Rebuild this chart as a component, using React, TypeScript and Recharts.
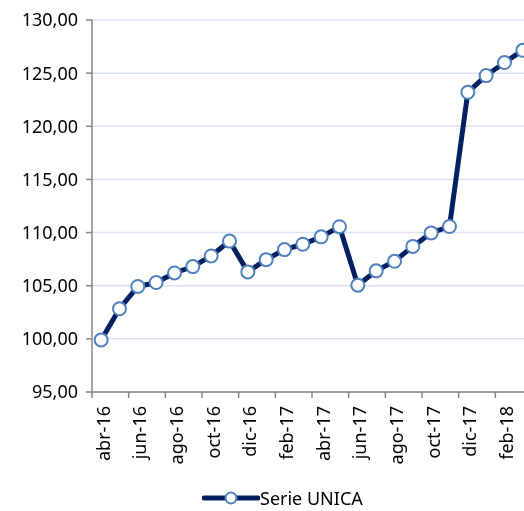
import React from "react";
import { CartesianGrid, Line, LineChart, XAxis, YAxis } from "recharts";

const months = [
  "abr-16", "may-16", "jun-16", "jul-16", "ago-16", "sep-16", "oct-16", "nov-16",
  "dic-16", "ene-17", "feb-17", "mar-17", "abr-17", "may-17", "jun-17", "jul-17",
  "ago-17", "sep-17", "oct-17", "nov-17", "dic-17", "ene-18", "feb-18", "mar-18"
];

const serieUnica = [
  99.9, 102.83, 104.93, 105.3, 106.2, 106.8, 107.8, 109.2,
  106.3, 107.45, 108.4, 108.9, 109.6, 110.55, 105.05, 106.4,
  107.3, 108.7, 109.97, 110.57, 123.2, 124.77, 126.0, 127.15
];

const yTicks = [95, 100, 105, 110, 115, 120, 125, 130];
const xTicks = [0, 2, 4, 6, 8, 10, 12, 14, 16, 18, 20, 22];

const data = months.map((m, i) => ({ i, label: m, value: serieUnica[i] }));

const FONT = "'Noto Sans', sans-serif";
const NAVY = "#002060";
const MARKER = "#4f81bd";
const AXIS = "#868686";

const CHART_W = 540;
const CHART_H = 470;
const MARGIN = { top: 12, right: 16, bottom: 0, left: 0 };
const Y_W = 84;
const BAND = (CHART_W - MARGIN.left - MARGIN.right - Y_W) / months.length;

const fmt = (v: number) => v.toFixed(2).replace(".", ",");

const XTick = (props: any) => {
  const { x, y, payload } = props;
  const label = months[payload.value];
  return (
    <g>
      <line x1={x - BAND / 2} x2={x - BAND / 2} y1={y} y2={y + 6} stroke={AXIS} strokeWidth={1.5} />
      <text
        x={0}
        y={0}
        transform={`translate(${x + 1.5}, ${y + 14}) rotate(-90)`}
        textAnchor="end"
        dominantBaseline="central"
        fontFamily={FONT}
        fontSize={18}
        fill="#000"
      >
        {label}
      </text>
    </g>
  );
};

export default function App() {
  return (
    <div style={{ position: "fixed", left: 8, top: 8, width: 516, height: 503, overflow: "hidden" }}>
      <LineChart width={CHART_W} height={CHART_H} data={data} margin={MARGIN}>
        <CartesianGrid vertical={false} stroke="#dae3f3" strokeWidth={1.5} />
        <XAxis
          dataKey="i"
          type="number"
          domain={[-0.5, 23.5]}
          ticks={xTicks}
          interval={0}
          tickLine={false}
          tickSize={0}
          tickMargin={0}
          height={86}
          stroke={AXIS}
          strokeWidth={1.5}
          tick={<XTick />}
        />
        <YAxis
          type="number"
          domain={[95, 130]}
          ticks={yTicks}
          interval={0}
          width={Y_W}
          tickFormatter={fmt}
          tickSize={6}
          tickMargin={8}
          stroke={AXIS}
          strokeWidth={1.5}
          tick={{ fill: "#000", fontSize: 18, fontFamily: FONT }}
        />
        <Line
          dataKey="value"
          stroke={NAVY}
          strokeWidth={5}
          isAnimationActive={false}
          dot={{ r: 6.5, fill: "#fff", stroke: MARKER, strokeWidth: 2 }}
        />
      </LineChart>
      <div
        style={{
          position: "absolute",
          left: 194,
          top: 481,
          height: 18,
          display: "flex",
          alignItems: "center",
          fontFamily: FONT,
          fontSize: 18,
          lineHeight: "18px",
          color: "#000",
          whiteSpace: "nowrap"
        }}
      >
        <svg width={58} height={18} style={{ display: "block" }}>
          <line x1={2} x2={56} y1={9} y2={9} stroke={NAVY} strokeWidth={5} strokeLinecap="round" />
          <circle cx={29} cy={9} r={5.5} fill="#fff" stroke={MARKER} strokeWidth={2} />
        </svg>
        <span>Serie UNICA</span>
      </div>
    </div>
  );
}
